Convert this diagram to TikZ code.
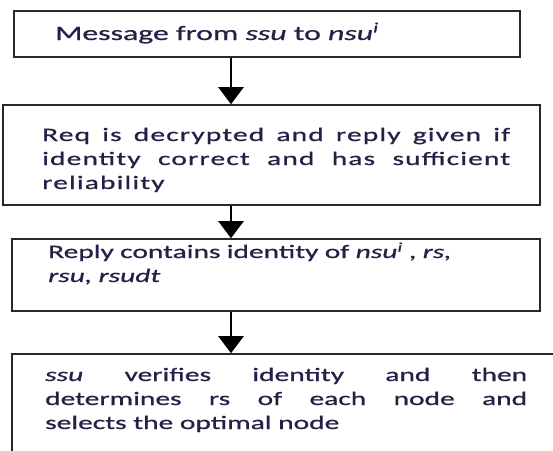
\documentclass[tikz,border=0pt]{standalone}
\usepackage{fontspec}
\setmainfont{Carlito}[FakeStretch=1.55, FakeBold=0.8]
\usetikzlibrary{arrows.meta}
\definecolor{ink}{RGB}{40,30,70}
\definecolor{frame}{RGB}{40,40,40}
\tikzset{
  stepbox/.style={draw=frame, line width=1.6pt, rectangle, inner sep=0pt},
  txt/.style={text=ink, inner sep=0pt, anchor=base west},
  flow/.style={draw=black, line width=2.4pt,
    -{Triangle[width=25pt,length=17pt]}},
}
\begin{document}
\begin{tikzpicture}[x=1pt,y=-1pt]
\useasboundingbox (0,0) rectangle (553,450);
\clip (0,0) rectangle (553,450);
% boxes
\node[stepbox, minimum width=506pt, minimum height=46pt] (b1) at (267,34) {};
\node[stepbox, minimum width=537pt, minimum height=100pt] (b2) at (271.5,155) {};
\node[stepbox, minimum width=528pt, minimum height=72pt] (b3) at (276,275) {};
\node[stepbox, minimum width=560pt, minimum height=120pt] (b4) at (292,414) {};
% texts
\node[txt, font=\fontsize{20.5}{24}\selectfont] (t1) at (55,40)
  {Message from \textit{ssu} to \textit{nsu}\textsuperscript{\textit{i}}};
\node[txt, text width=468pt, align=justify,
      font=\fontsize{19}{24}\selectfont\addfontfeature{LetterSpace=6}] (t2) at (42,141)
  {Req is decrypted and reply given if\linebreak identity correct and has sufficient\linebreak reliability};
\node[txt, text width=470pt, align=left, font=\fontsize{19}{24}\selectfont] (t3) at (48,258)
  {Reply contains identity of \textit{nsu}\textsuperscript{\textit{i}} , \textit{rs,}\\ \textit{rsu, rsudt}};
\node[txt, text width=482pt, align=justify, font=\fontsize{19}{24}\selectfont] (t4) at (45,381)
  {\textit{ssu} verifies identity and then\linebreak determines rs of each node and\linebreak selects the optimal node};
% connectors
\coordinate (ax) at (231,0);
\draw[flow] (b1.south -| ax) -- (b2.north -| ax);
\draw[flow] (b2.south -| ax) -- (b3.north -| ax);
\draw[flow] (b3.south -| ax) -- (b4.north -| ax);
\end{tikzpicture}
\end{document}
